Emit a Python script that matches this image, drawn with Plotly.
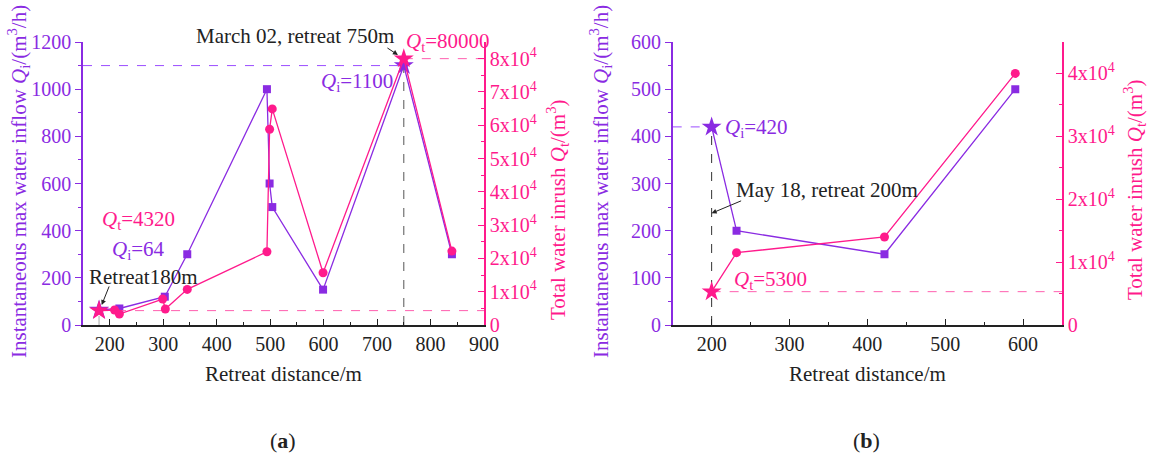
import plotly.graph_objects as go

# ---------------- data ----------------
# Panel (a)
a_dist_qi = [180, 218, 303, 345, 494, 499, 504, 599, 750, 840]
a_qi = [64, 70, 120, 300, 1000, 600, 500, 150, 1100, 300]
a_dist_qt = [180, 209, 218, 299, 304, 345, 494, 499, 504, 599, 750, 840]
a_qt = [4320, 4500, 3300, 7800, 4800, 10700, 22000, 58800, 64900, 15700, 80000, 22200]
a_star_qi = (180, 64)
a_peak_qi = (750, 1100)
a_star_qt = (180, 4320)
a_peak_qt = (750, 80000)

# Panel (b)
b_dist = [200, 232, 422, 590]
b_qi = [420, 200, 150, 500]
b_qt = [5300, 11500, 14000, 40000]

a_x_range = [150, 900]
a_yl_range = [0, 1200]
a_yr_range = [0, 85000]
b_x_range = [150, 650]
b_yl_range = [0, 600]
b_yr_range = [0, 45000]

a_x_ticks = [200, 300, 400, 500, 600, 700, 800, 900]
a_yl_ticks = [0, 200, 400, 600, 800, 1000, 1200]
a_yr_ticks = [0, 10000, 20000, 30000, 40000, 50000, 60000, 70000, 80000]
b_x_ticks = [200, 300, 400, 500, 600]
b_yl_ticks = [0, 100, 200, 300, 400, 500, 600]
b_yr_ticks = [0, 10000, 20000, 30000, 40000]

PURPLE = "#8A2BE2"
PURPLE_L = "#9B4DFF"
PINK = "#FF1A8C"
PINK_L = "#FF5FAF"
BLACK = "#222222"
FONT = "Liberation Serif, Times New Roman, serif"
FS = 20
FA = 21


def sci(v):
    if v == 0:
        return "0"
    return "%dx10<sup>4</sup>" % int(v / 10000)


fig = go.Figure()


def line(xs, ys, color, xa, ya, dash=None, width=1.3):
    fig.add_trace(go.Scatter(x=xs, y=ys, mode="lines", line=dict(color=color, width=width, dash=dash),
                             xaxis=xa, yaxis=ya, showlegend=False, hoverinfo="skip"))


def marks(xs, ys, color, symbol, size, xa, ya):
    fig.add_trace(go.Scatter(x=xs, y=ys, mode="markers", marker=dict(symbol=symbol, size=size, color=color),
                             xaxis=xa, yaxis=ya, showlegend=False))


# ---------- panel (a) reference dashed lines ----------
line([a_x_range[0], a_peak_qi[0]], [a_peak_qi[1]] * 2, PURPLE_L, "x", "y", "dash", 1)
line([a_peak_qi[0]] * 2, [0, a_peak_qi[1]], "#555555", "x", "y", "dash", 1)
line([a_star_qi[0]] * 2, [0, a_star_qi[1]], "#aaaaaa", "x", "y", "dash", 1)
line([a_peak_qt[0], a_x_range[1]], [a_peak_qt[1]] * 2, PINK_L, "x", "y2", "dash", 1)
line([a_star_qt[0], a_x_range[1]], [a_star_qt[1]] * 2, PINK_L, "x", "y2", "dash", 1)

# ---------- panel (a) series ----------
line(a_dist_qi, a_qi, PURPLE, "x", "y")
marks(a_dist_qi[1:-2] + a_dist_qi[-1:], a_qi[1:-2] + a_qi[-1:], PURPLE, "square", 8, "x", "y")
marks([a_star_qi[0], a_peak_qi[0]], [a_star_qi[1], a_peak_qi[1]], PURPLE, "star", 15, "x", "y")
line(a_dist_qt, a_qt, PINK, "x", "y2")
sel = [i for i, d in enumerate(a_dist_qt) if d not in (a_star_qt[0], a_peak_qt[0])]
marks([a_dist_qt[i] for i in sel], [a_qt[i] for i in sel], PINK, "circle", 9, "x", "y2")
marks([a_star_qt[0], a_peak_qt[0]], [a_star_qt[1], a_peak_qt[1]], PINK, "star", 15, "x", "y2")

# ---------- panel (b) reference dashed lines ----------
line([b_x_range[0], b_dist[0]], [b_qi[0]] * 2, PURPLE_L, "x2", "y3", "dash", 1)
line([b_dist[0]] * 2, [0, b_qi[0]], "#333333", "x2", "y3", "dash", 1)
line([b_dist[0], b_x_range[1]], [b_qt[0]] * 2, PINK_L, "x2", "y4", "dash", 1)

# ---------- panel (b) series ----------
line(b_dist, b_qi, PURPLE, "x2", "y3")
marks(b_dist[1:], b_qi[1:], PURPLE, "square", 8, "x2", "y3")
marks(b_dist[:1], b_qi[:1], PURPLE, "star", 15, "x2", "y3")
line(b_dist, b_qt, PINK, "x2", "y4")
marks(b_dist[1:], b_qt[1:], PINK, "circle", 9, "x2", "y4")
marks(b_dist[:1], b_qt[:1], PINK, "star", 15, "x2", "y4")

# ---------- axes ----------
W, H = 1151, 462
YDOM = [1 - 325 / H, 1 - 42 / H]
ax_a = [83 / W, 484 / W]
ax_b = [672.7 / W, 1062 / W]


def xaxis_cfg(domain, rng, ticks, anchor):
    return dict(domain=domain, range=rng, anchor=anchor, tickvals=ticks, ticks="inside", ticklen=6,
                tickcolor=BLACK, tickwidth=1.2, showline=True, linecolor=BLACK, linewidth=1.5,
                showgrid=False, zeroline=False, automargin=False,
                tickfont=dict(family=FONT, size=FS, color=BLACK),
                minor=dict(ticks="inside", ticklen=3, dtick=50, tickcolor=BLACK, tickwidth=1.2))


def yleft_cfg(rng, ticks, anchor, minor_dt):
    return dict(domain=YDOM, range=rng, anchor=anchor, tickvals=ticks, ticks="outside", ticklen=6,
                tickcolor=PURPLE, tickwidth=1.2, showline=True, linecolor=PURPLE, linewidth=1.5,
                showgrid=False, zeroline=False, automargin=False,
                tickfont=dict(family=FONT, size=FS, color=PURPLE),
                minor=dict(ticks="outside", ticklen=3, dtick=minor_dt, tickcolor=PURPLE, tickwidth=1.2))


def yright_cfg(rng, ticks, anchor, overlay):
    return dict(range=rng, anchor=anchor, overlaying=overlay, side="right", tickvals=ticks,
                ticktext=[sci(v) for v in ticks], ticks="inside", ticklen=6,
                tickcolor=PINK, tickwidth=1.2, showline=True, linecolor=PINK, linewidth=1.5,
                showgrid=False, zeroline=False, automargin=False,
                tickfont=dict(family=FONT, size=FS, color=PINK),
                minor=dict(ticks="inside", ticklen=3, dtick=5000, tickcolor=PINK, tickwidth=1.2))


fig.update_layout(
    width=W, height=H, autosize=False, margin=dict(l=0, r=0, t=0, b=0, pad=0),
    paper_bgcolor="white", plot_bgcolor="white", showlegend=False,
    font=dict(family=FONT, size=FS, color=BLACK),
    xaxis=xaxis_cfg(ax_a, a_x_range, a_x_ticks, "y"),
    yaxis=yleft_cfg(a_yl_range, a_yl_ticks, "x", 100),
    yaxis2=yright_cfg(a_yr_range, a_yr_ticks, "x", "y"),
    xaxis2=xaxis_cfg(ax_b, b_x_range, b_x_ticks, "y3"),
    yaxis3=yleft_cfg(b_yl_range, b_yl_ticks, "x2", 50),
    yaxis4=yright_cfg(b_yr_range, b_yr_ticks, "x2", "y3"),
)

ann = []


def txt(x, y, text, color, xref, yref, xanchor="left"):
    ann.append(dict(x=x, y=y, xref=xref, yref=yref, text=text, showarrow=False, xanchor=xanchor,
                    yanchor="middle", font=dict(family=FONT, size=FA, color=color)))


def ptxt(xp, yp, text, color, xanchor="left", size=FA, angle=0):
    ann.append(dict(x=xp / W, y=1 - yp / H, xref="paper", yref="paper", text=text, showarrow=False,
                    xanchor=xanchor, yanchor="middle", textangle=angle,
                    font=dict(family=FONT, size=size, color=color)))


def arrow(x, y, ax, ay, xref, yref):
    ann.append(dict(x=x, y=y, xref=xref, yref=yref, text="", showarrow=True, ax=ax, ay=ay,
                    arrowhead=2, arrowsize=1, arrowwidth=1, arrowcolor=BLACK))


# panel (a) annotations
ptxt(295, 36, "March 02, retreat 750m", BLACK, "center")
arrow(739, 1145, -12, -8, "x", "y")
ptxt(404, 42, "<i>Q</i><sub>t</sub>=80000", PINK)
txt(733, 1030, "<i>Q</i><sub>i</sub>=1100", PURPLE, "x", "y", "right")
txt(182, 445, "<i>Q</i><sub>t</sub>=4320", PINK, "x", "y")
txt(200, 318, "<i>Q</i><sub>i</sub>=64", PURPLE, "x", "y")
txt(158, 204, "Retreat180m", BLACK, "x", "y")
arrow(185, 85, 8, -20, "x", "y")

# panel (b) annotations
txt(215, 418, "<i>Q</i><sub>i</sub>=420", PURPLE, "x2", "y3")
txt(229, 287, "May 18, retreat 200m", BLACK, "x2", "y3")
arrow(200, 237, 31, -13, "x2", "y3")
txt(226, 95, "<i>Q</i><sub>t</sub>=5300", PINK, "x2", "y3")

# axis titles
left_title = "Instantaneous max water inflow <i>Q</i><sub>i</sub>/(m<sup>3</sup>/h)"
right_title = "Total water inrush <i>Q</i><sub>t</sub>/(m<sup>3</sup>)"
ptxt(18, 182, left_title, PURPLE, "center", angle=-90)
ptxt(557, 210, right_title, PINK, "center", angle=-90)
ptxt(600, 182, left_title, PURPLE, "center", angle=-90)
ptxt(1135, 190, right_title, PINK, "center", angle=-90)
ptxt(283.5, 374, "Retreat distance/m", BLACK, "center")
ptxt(867, 374, "Retreat distance/m", BLACK, "center")
ptxt(283, 440, "(<b>a</b>)", BLACK, "center", size=22)
ptxt(866, 440, "(<b>b</b>)", BLACK, "center", size=22)

fig.update_layout(annotations=ann)
fig.write_html("out.html")
